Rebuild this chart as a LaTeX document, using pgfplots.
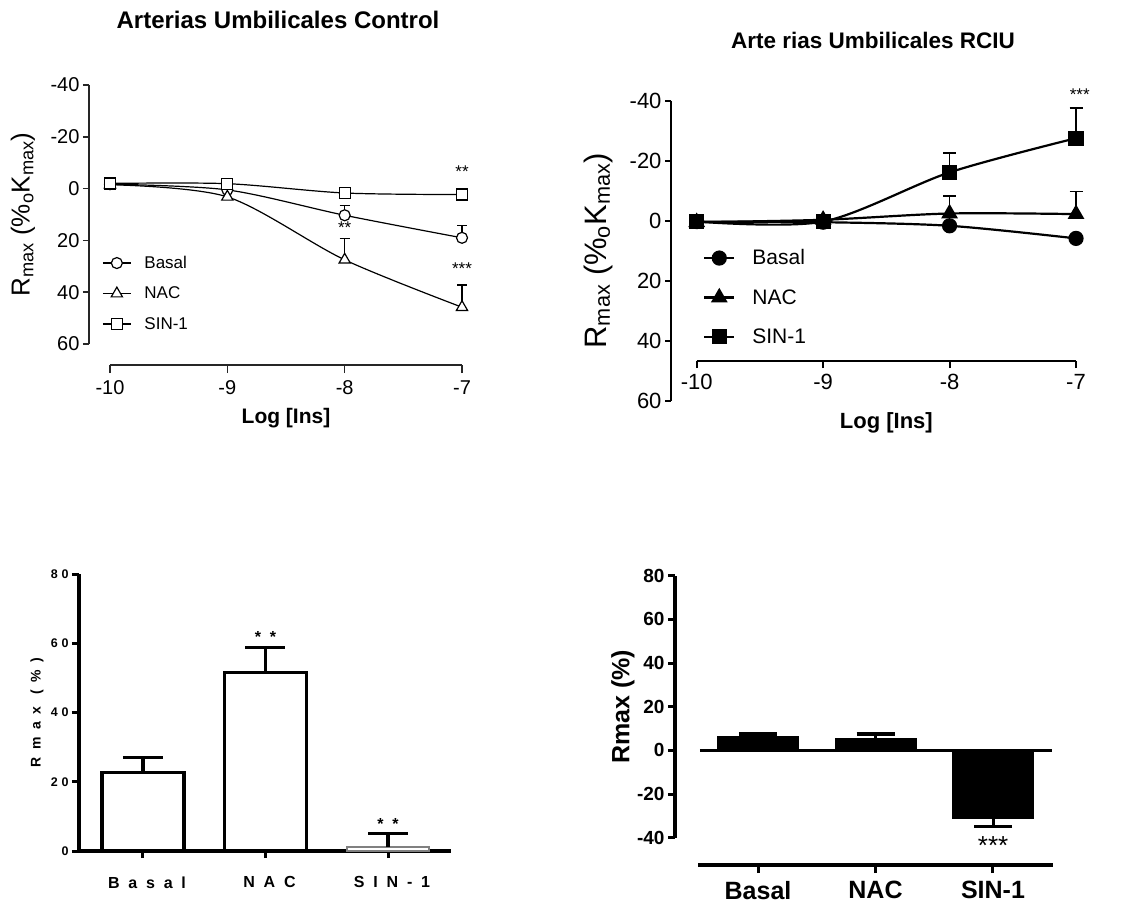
\documentclass[border=0pt]{standalone}
\usepackage{fontspec}
\setmainfont{Liberation Sans}
\newfontfamily\spacedA[LetterSpace=55]{Liberation Sans}
\newfontfamily\spacedB[LetterSpace=30]{Liberation Sans}
\usepackage{pgfplots}
\pgfplotsset{compat=1.18}
\newcommand\fs[1]{\fontsize{#1}{#1}\selectfont}

\begin{document}
\begin{tikzpicture}
\path[use as bounding box] (0pt,0pt) rectangle (1131pt,906pt);
\node[font=\fs{24}\bfseries] at (278pt,886pt) {Arterias Umbilicales Control};
\node[font=\fs{22.5}\bfseries] at (873pt,866pt) {Arte rias Umbilicales RCIU};

% ---------------- Panel 1 (top left) ----------------
\begin{axis}[
  scale only axis, width=373pt, height=259pt,
  at={(89pt,562pt)}, anchor=south west,
  xmin=-10.179, xmax=-7, ymin=-40, ymax=60, y dir=reverse,
  axis y line*=left, axis x line=none, xtick=\empty,
  ytick={-40,-20,0,20,40,60}, yticklabels={-40,-20,0,20,40,60},
  tick align=outside, major tick length=6pt,
  axis line style={line width=1.5pt, black!85},
  tick style={line width=1.5pt, black!85},
  yticklabel style={font=\fs{20}},
  ylabel={R\textsubscript{max} (\%\textsubscript{o}K\textsubscript{max})},
  every axis y label/.style={at={(axis description cs:-0.177,0.5)}, rotate=90, anchor=center, font=\fs{26}},
  clip=false,
  legend style={at={(axis description cs:0.035,0.34)}, anchor=north west, draw=none, fill=none,
    inner sep=0pt, row sep=17pt, font=\fs{17}, nodes={inner sep=0pt, anchor=west}},
  legend cell align=left,
  legend image code/.code={\draw[mark repeat=2,mark phase=2] plot coordinates {(0pt,0pt)(14pt,0pt)(28pt,0pt)}; \path (41pt,0pt);},
]
\addplot[black, line width=1.2pt, smooth, mark=*, mark size=5.5pt, mark options={fill=white, solid},
  error bars/.cd, y dir=minus, y explicit, error bar style={line width=1.2pt},
  error mark options={rotate=90, mark size=5pt, line width=1.2pt}]
  coordinates {(-10,-1.7) (-9,0.5) (-8,10.3) -= (0,3.9) (-7,19) -= (0,4.8)};
\addlegendentry{Basal}
\addplot[black, line width=1.2pt, smooth, mark=triangle*, mark size=6.5pt, mark options={fill=white, solid},
  error bars/.cd, y dir=minus, y explicit, error bar style={line width=1.2pt},
  error mark options={rotate=90, mark size=5pt, line width=1.2pt}]
  coordinates {(-10,-1.5) (-9,3.2) (-8,27.5) -= (0,8.1) (-7,45.8) -= (0,8.6)};
\addlegendentry{NAC}
\addplot[black, line width=1.2pt, smooth, mark=square*, mark size=5.5pt, mark options={fill=white, solid}]
  coordinates {(-10,-2) (-9,-1.9) (-8,1.7) (-7,2.3)};
\addlegendentry{SIN-1}
\node[font=\fs{17}] at (axis cs:-7,-6.5) {**};
\node[font=\fs{17}] at (axis cs:-8,15) {**};
\node[font=\fs{17}] at (axis cs:-7,31) {***};
\end{axis}

\begin{axis}[
  scale only axis, width=352pt, height=10pt,
  at={(110pt,541pt)}, anchor=south west,
  xmin=-10, xmax=-7, ymin=0, ymax=1,
  axis x line*=bottom, axis y line=none, ytick=\empty,
  xtick={-10,-9,-8,-7}, xticklabels={-10,-9,-8,-7},
  tick align=outside, major tick length=8pt,
  axis line style={line width=1.5pt, black!85},
  tick style={line width=1.5pt, black!85},
  xticklabel style={font=\fs{20}, yshift=-4pt},
  xlabel={Log [Ins]},
  every axis x label/.style={at={(axis description cs:0.5,0)}, anchor=center, yshift=-53pt, font=\fs{21}\bfseries},
]
\addplot[draw=none] coordinates {(-10,0.5)};
\end{axis}

% ---------------- Panel 2 (top right) ----------------
\begin{axis}[
  scale only axis, width=405pt, height=300pt,
  at={(671pt,505.3pt)}, anchor=south west,
  xmin=-10.203, xmax=-7, ymin=-40, ymax=60, y dir=reverse,
  axis y line*=left, axis x line=none, xtick=\empty,
  ytick={-40,-20,0,20,40,60}, yticklabels={-40,-20,0,20,40,60},
  tick align=outside, major tick length=6pt,
  axis line style={line width=2pt, black},
  tick style={line width=2pt, black},
  yticklabel style={font=\fs{22}},
  ylabel={R\textsubscript{max} (\%\textsubscript{o}K\textsubscript{max})},
  every axis y label/.style={at={(axis description cs:-0.180,0.5)}, rotate=90, anchor=center, font=\fs{31}},
  clip=false,
  legend style={at={(axis description cs:0.079,0.504)}, anchor=north west, draw=none, fill=none,
    inner sep=0pt, row sep=23pt, font=\fs{21}, nodes={inner sep=0pt, anchor=west}},
  legend cell align=left,
  legend image code/.code={\draw[mark repeat=2,mark phase=2] plot coordinates {(0pt,0pt)(15pt,0pt)(30pt,0pt)}; \path (47pt,0pt);},
]
\addplot[black, line width=2.2pt, smooth, mark=*, mark size=6.5pt]
  coordinates {(-10,0.3) (-9,0.5) (-8,1.7) (-7,5.9)};
\addlegendentry{Basal}
\addplot[black, line width=2.2pt, smooth, mark=triangle*, mark size=7.5pt,
  error bars/.cd, y dir=minus, y explicit, error bar style={line width=1.8pt},
  error mark options={rotate=90, mark size=6.5pt, line width=1.8pt}]
  coordinates {(-10,0.5) (-9,-0.3) (-8,-2.4) -= (0,5.8) (-7,-2.2) -= (0,7.5)};
\addlegendentry{NAC}
\addplot[black, line width=2.2pt, smooth, mark=square*, mark size=6.5pt,
  error bars/.cd, y dir=minus, y explicit, error bar style={line width=1.8pt},
  error mark options={rotate=90, mark size=6.5pt, line width=1.8pt}]
  coordinates {(-10,0.3) (-9,0.3) (-8,-16.1) -= (0,6.4) (-7,-27.5) -= (0,10)};
\addlegendentry{SIN-1}
\node[font=\fs{17}] at (axis cs:-6.97,-42) {***};
\end{axis}

\begin{axis}[
  scale only axis, width=379.3pt, height=10pt,
  at={(696.7pt,545pt)}, anchor=south west,
  xmin=-10, xmax=-7, ymin=0, ymax=1,
  axis x line*=bottom, axis y line=none, ytick=\empty,
  xtick={-10,-9,-8,-7}, xticklabels={-10,-9,-8,-7},
  tick align=outside, major tick length=7pt,
  axis line style={line width=2pt, black},
  tick style={line width=2pt, black},
  xticklabel style={font=\fs{22}, yshift=-3pt},
  xlabel={Log [Ins]},
  every axis x label/.style={at={(axis description cs:0.5,0)}, anchor=center, yshift=-62pt, font=\fs{22}\bfseries},
]
\addplot[draw=none] coordinates {(-10,0.5)};
\end{axis}

% ---------------- Panel 3 (bottom left) ----------------
\begin{axis}[
  scale only axis, width=372pt, height=277pt,
  at={(79pt,55pt)}, anchor=south west,
  xmin=-0.522, xmax=2.514, ymin=0, ymax=80,
  axis x line*=bottom, axis y line*=left,
  xtick={0,1,2}, xticklabels={Basal,NAC,SIN-1},
  ytick={0,20,40,60,80}, yticklabels={0,20,40,60,80},
  tick align=outside, major tick length=7pt,
  axis line style={line width=3.5pt, black},
  tick style={line width=3pt, black},
  xticklabel style={font=\spacedA\fs{16}\bfseries, yshift=-15pt, xshift=4pt},
  yticklabel style={font=\spacedB\fs{12.5}\bfseries},
  ylabel={Rmax (\%)},
  every axis y label/.style={at={(axis description cs:-0.113,0.5)}, rotate=90, anchor=center, font=\spacedA\fs{14}\bfseries},
  clip=false,
]
\addplot[ybar, bar width=82pt, bar shift=0pt, fill=white, draw=black, line width=3.5pt,
  error bars/.cd, y dir=plus, y explicit, error bar style={line width=3.5pt, black},
  error mark options={rotate=90, mark size=20pt, line width=3.5pt, black}]
  coordinates {(0,22.7) += (0,4.3) (1,51.6) += (0,7.2)};
\addplot[ybar, bar width=82pt, bar shift=0pt, fill=white, draw=gray, line width=2pt,
  error bars/.cd, y dir=plus, y explicit, error bar style={line width=3.5pt, black},
  error mark options={rotate=90, mark size=20pt, line width=3.5pt, black}]
  coordinates {(2,1.25) += (0,3.85)};
\node[font=\spacedA\fs{16}\bfseries] at (axis cs:1,61.8) {**};
\node[font=\spacedA\fs{16}\bfseries] at (axis cs:2,7.8) {**};
\end{axis}

% ---------------- Panel 4 (bottom right) ----------------
\begin{axis}[
  scale only axis, width=378pt, height=262pt,
  at={(675pt,68.3pt)}, anchor=south west,
  xmin=-0.706, xmax=2.51, ymin=-40, ymax=80,
  axis y line*=left, axis x line=none, xtick=\empty,
  ytick={-40,-20,0,20,40,60,80}, yticklabels={-40,-20,0,20,40,60,80},
  tick align=outside, major tick length=7pt,
  axis line style={line width=3.5pt, black},
  tick style={line width=3pt, black},
  yticklabel style={font=\fs{19}\bfseries},
  ylabel={Rmax (\%)},
  every axis y label/.style={at={(axis description cs:-0.138,0.5)}, rotate=90, anchor=center, font=\fs{25}\bfseries},
  clip=false,
]
\addplot[black, line width=3.5pt] coordinates {(-0.494,0) (2.5,0)};
\addplot[ybar, bar width=81pt, bar shift=0pt, fill=black, draw=black,
  error bars/.cd, y dir=plus, y explicit, error bar style={line width=3pt},
  error mark options={rotate=90, mark size=19pt, line width=3.5pt}]
  coordinates {(0,6.4) += (0,1.1) (1,5.5) += (0,2.0)};
\addplot[ybar, bar width=81pt, bar shift=0pt, fill=black, draw=black,
  error bars/.cd, y dir=minus, y explicit, error bar style={line width=3pt},
  error mark options={rotate=90, mark size=19pt, line width=3.5pt}]
  coordinates {(2,-31.1) -= (0,3.7)};
\node[font=\fs{26}] at (axis cs:2,-43.5) {***};
\end{axis}

\begin{axis}[
  scale only axis, width=355pt, height=10pt,
  at={(698pt,41pt)}, anchor=south west,
  xmin=-0.511, xmax=2.511, ymin=0, ymax=1,
  axis x line*=bottom, axis y line=none, ytick=\empty,
  xtick={0,1,2}, xticklabels={Basal,NAC,SIN-1},
  tick align=outside, major tick length=8pt,
  axis line style={line width=3.5pt, black},
  tick style={line width=3pt, black},
  xticklabel style={font=\fs{25}\bfseries, yshift=-5pt},
]
\addplot[draw=none] coordinates {(0,0.5)};
\end{axis}
\end{tikzpicture}
\end{document}
